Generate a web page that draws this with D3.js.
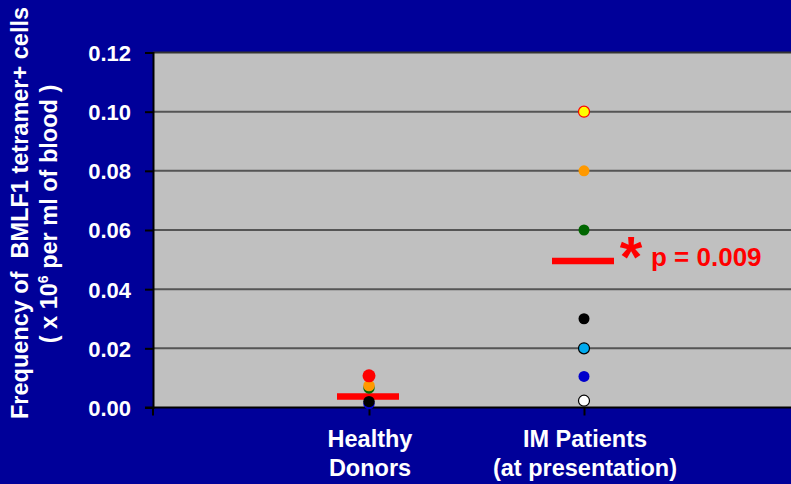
<!DOCTYPE html>
<html><head><meta charset="utf-8">
<script src="https://cdn.jsdelivr.net/npm/d3@7"></script>
<style>html,body{margin:0;padding:0;background:#000099;overflow:hidden}</style>
</head><body>
<svg id="c" width="791" height="484"></svg>
<script>
const groups = ["Healthy Donors", "IM Patients"];
const groupLines = [["Healthy", "Donors"], ["IM Patients", "(at presentation)"]];
const healthyValues = [0.0107, 0.0074, 0.0066, 0.002, 0.0013];
const healthyColors = ["#ff0000", "#ff9900", "#006600", "#000000", "#0000cc"];
const imValues = [0.100, 0.080, 0.060, 0.030, 0.020, 0.0105, 0.0023];
const imColors = ["#ffff00", "#ff9900", "#006600", "#000000", "#00aaee", "#0000cc", "#ffffff"];
const imStrokes = ["#ff0000", "none", "none", "none", "#000000", "none", "#000000"];
const means = [0.0037, 0.0495];
const yTicks = [0, 0.02, 0.04, 0.06, 0.08, 0.10, 0.12];

const FONT = "Liberation Sans, Arial, sans-serif";
const svg = d3.select("#c");
const W = 791, H = 484;
const m = {l: 153, t: 52.5, bottom: 407.5};
const x = d3.scalePoint().domain(groups).range([369, 584]);
const y = d3.scaleLinear().domain([0, 0.12]).range([m.bottom, m.t]);

svg.append("rect").attr("width", W).attr("height", H).attr("fill", "#000099");
svg.append("rect").attr("x", m.l).attr("y", m.t).attr("width", W - m.l).attr("height", y(0) - m.t).attr("fill", "#c0c0c0");

// gridlines
svg.append("g").selectAll("line").data(yTicks.filter(d => d > 0)).join("line")
  .attr("x1", m.l).attr("x2", W).attr("y1", d => y(d)).attr("y2", d => y(d))
  .attr("stroke", d => d === 0.12 ? "#333" : "#555").attr("stroke-width", 2);

// y axis
const yAxis = svg.append("g").attr("transform", `translate(${m.l},0)`)
  .call(d3.axisLeft(y).tickValues(yTicks).tickFormat(d3.format(".2f")).tickSize(8).tickPadding(14));
yAxis.select(".domain").attr("stroke", "#000").attr("stroke-width", 2);
yAxis.selectAll(".tick line").attr("stroke", "#000").attr("stroke-width", 2);
yAxis.selectAll("text").attr("fill", "#fff").attr("font-family", FONT)
  .attr("font-weight", "bold").attr("font-size", 22).attr("dy", "0.36em");

// x axis
const xAxis = svg.append("g").attr("transform", `translate(0,${y(0)})`)
  .call(d3.axisBottom(x).tickSize(8).tickFormat(""));
xAxis.select(".domain").remove();
svg.append("line").attr("x1", m.l - 8).attr("x2", W).attr("y1", y(0)).attr("y2", y(0)).attr("stroke", "#000").attr("stroke-width", 2);
svg.append("line").attr("x1", m.l).attr("x2", m.l).attr("y1", y(0)).attr("y2", y(0) + 8).attr("stroke", "#000").attr("stroke-width", 2);
xAxis.selectAll(".tick line").attr("stroke", "#000").attr("stroke-width", 2);

// category labels
groups.forEach((g, i) => {
  groupLines[i].forEach((t, j) => {
    svg.append("text").attr("x", x(g) + 1).attr("y", 447 + j * 29).attr("text-anchor", "middle")
      .attr("fill", "#fff").attr("font-family", FONT)
      .attr("font-weight", "bold").attr("font-size", 23.5).text(t);
  });
});

// y title
svg.append("text").attr("transform", "translate(28,213) rotate(-90)").attr("text-anchor", "middle")
  .attr("fill", "#fff").attr("font-family", FONT).attr("font-weight", "bold")
  .attr("font-size", 23.5).attr("xml:space", "preserve").text("Frequency of  BMLF1 tetramer+ cells");
const t2 = svg.append("text").attr("transform", "translate(57,214) rotate(-90)").attr("text-anchor", "middle")
  .attr("fill", "#fff").attr("font-family", FONT).attr("font-weight", "bold")
  .attr("font-size", 23.5);
t2.append("tspan").text("( x 10");
t2.append("tspan").attr("font-size", 14).attr("dy", -9).text("6");
t2.append("tspan").attr("dy", 9).text(" per ml of blood )");

// means
svg.append("g").selectAll("line").data(means).join("line")
  .attr("x1", (d, i) => x(groups[i]) - 32).attr("x2", (d, i) => x(groups[i]) + 30)
  .attr("y1", d => y(d)).attr("y2", d => y(d)).attr("stroke", "#ff0000").attr("stroke-width", 6.5);

// healthy dots (draw order: bottom first)
const hd = healthyValues.map((v, i) => ({v, c: healthyColors[i], r: i === 0 ? 6.5 : 5.7}));
svg.append("g").selectAll("circle").data(hd.slice().reverse()).join("circle")
  .attr("cx", x(groups[0])).attr("cy", d => y(d.v)).attr("r", d => d.r).attr("fill", d => d.c);

// IM dots
svg.append("g").selectAll("circle").data(imValues).join("circle")
  .attr("cx", x(groups[1])).attr("cy", d => y(d)).attr("r", 5.5)
  .attr("fill", (d, i) => imColors[i]).attr("stroke", (d, i) => imStrokes[i]).attr("stroke-width", 1.2);

// significance
svg.append("text").attr("x", 631).attr("y", 277).attr("text-anchor", "middle").attr("fill", "#ff0000")
  .attr("font-family", FONT).attr("font-weight", "bold").attr("font-size", 58).text("*");
svg.append("text").attr("x", 651).attr("y", 266).attr("fill", "#ff0000")
  .attr("font-family", FONT).attr("font-weight", "bold").attr("font-size", 26).text("p = 0.009");
</script>
</body></html>
